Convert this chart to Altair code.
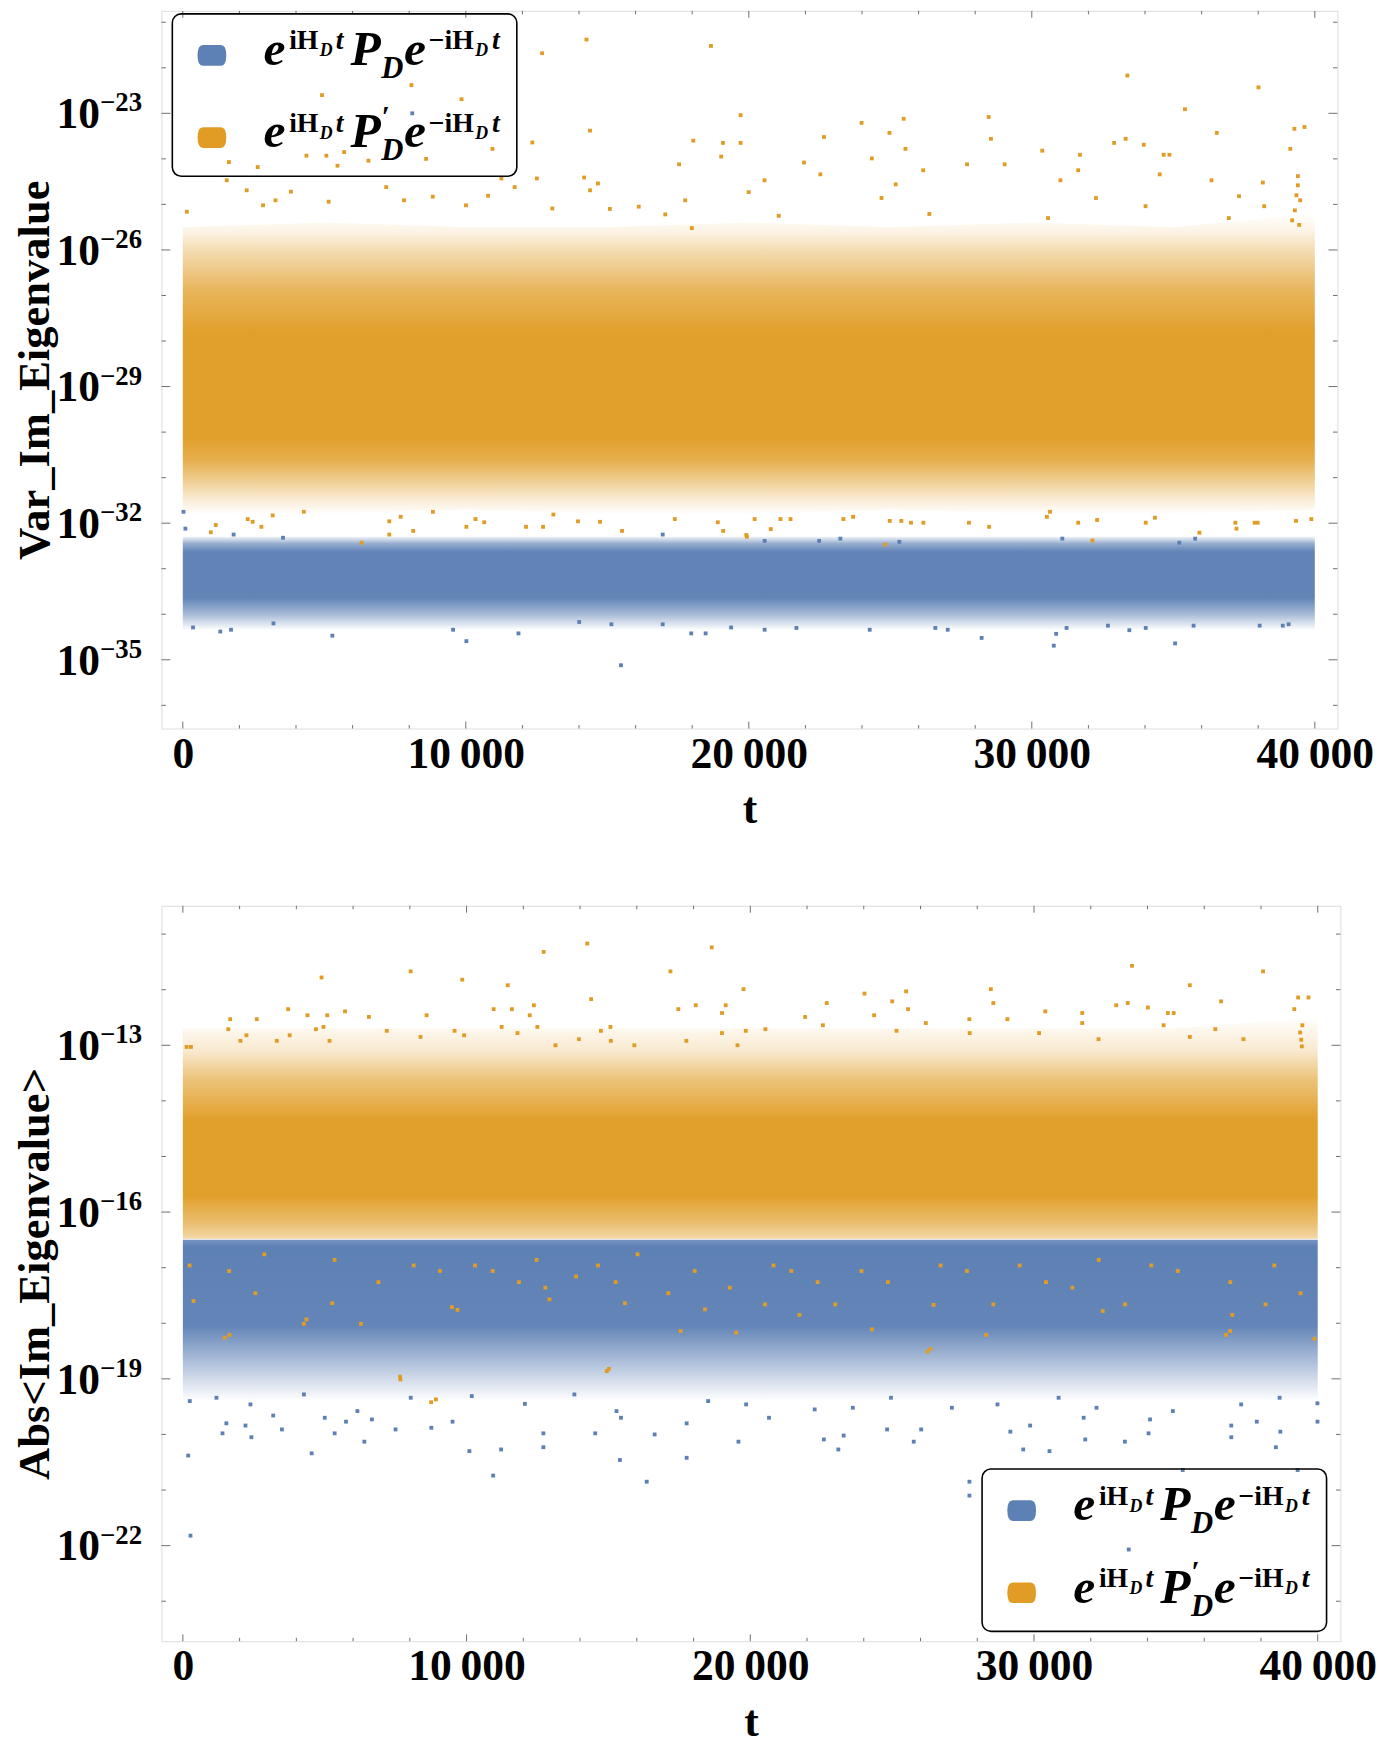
import altair as alt
import pandas as pd

# ---------------- colours / fonts ----------------
BLUE = "#5E81B5"
ORANGE = "#E09C24"
BLUE_RGB = (94, 129, 181)
ORANGE_RGB = (224, 156, 36)
FRAME = "#6e6e6e"
FONT = "Liberation Serif"

# ---------------- axes ----------------
T_DOMAIN = [-755, 40800]
x_major_ticks = [0, 10000, 20000, 30000, 40000]
x_tick_labels = ["0", "10\u2009000", "20\u2009000", "30\u2009000", "40\u2009000"]
x_minor_ticks = [2000, 4000, 6000, 8000, 12000, 14000, 16000, 18000, 22000, 24000,
                 26000, 28000, 32000, 34000, 36000, 38000]

top_log_domain = [-36.51, -20.75]
top_major_exp = [-35, -32, -29, -26, -23]
top_minor_exp = [-36, -34, -33, -31, -30, -28, -27, -25, -24, -22, -21]

bot_log_domain = [-23.72, -10.49]
bot_major_exp = [-22, -19, -16, -13]
bot_minor_exp = [-23, -21, -20, -18, -17, -15, -14, -12, -11]

# ---------------- dense bands (log10 values read at t knots) ----------------
t_knots = [0, 5000, 10000, 15000, 20000, 25000, 30000, 35000, 40000]

# top panel, orange  (Var, P'_D)
var_org_hi = [-25.5, -25.4, -25.5, -25.5, -25.4, -25.5, -25.4, -25.5, -25.2]
var_org_lo = [-31.8, -31.8, -31.7, -31.8, -31.8, -31.7, -31.8, -31.8, -31.7]
var_org_prof_log = [-25.2, -25.6, -26.0, -26.9, -27.8, -30.1, -30.6, -31.0, -31.45, -31.8]
var_org_prof_alpha = [0.0, 0.12, 0.35, 0.75, 0.96, 0.97, 0.82, 0.55, 0.22, 0.0]
# top panel, blue (Var, P_D)
var_blu_hi = [-32.3, -32.3, -32.3, -32.3, -32.3, -32.3, -32.3, -32.3, -32.3]
var_blu_lo = [-34.35, -34.35, -34.35, -34.35, -34.35, -34.35, -34.35, -34.35, -34.35]
var_blu_prof_log = [-32.3, -32.45, -32.63, -33.63, -34.0, -34.35]
var_blu_prof_alpha = [0.10, 0.65, 0.98, 0.98, 0.55, 0.0]
# bottom panel, orange
abs_org_hi = [-12.7, -12.7, -12.7, -12.7, -12.7, -12.7, -12.7, -12.7, -12.5]
abs_org_lo = [-16.48, -16.48, -16.48, -16.48, -16.48, -16.48, -16.48, -16.48, -16.48]
abs_org_prof_log = [-12.5, -13.1, -13.6, -14.35, -15.7, -16.2, -16.48]
abs_org_prof_alpha = [0.0, 0.22, 0.6, 0.97, 0.97, 0.65, 0.4]
# bottom panel, blue
abs_blu_hi = [-16.5, -16.5, -16.5, -16.5, -16.5, -16.5, -16.5, -16.5, -16.5]
abs_blu_lo = [-19.4, -19.4, -19.4, -19.4, -19.4, -19.4, -19.4, -19.4, -19.4]
abs_blu_prof_log = [-16.5, -16.62, -18.05, -18.7, -19.4]
abs_blu_prof_alpha = [0.85, 1.0, 0.97, 0.50, 0.0]

# ---------------- isolated points (t, log10 value) ----------------
var_org_out_t = [14263, 12696, 8078, 4919, 9848, 14389, 12352, 1630, 2647, 4369, 5073, 5701, 6560, 5466,
                 8597, 10942, 11258, 12510, 14669, 14182, 1553, 2258, 3822, 3275, 2836, 10788, 11727,
                 14389, 144, 7187, 8832, 10006, 5154, 7815, 13057, 15091, 16110, 17047, 17986,
                 18663, 33377, 38009, 35411, 19711, 28476, 25471, 23985, 39635, 39278, 24970, 36536,
                 22656, 28557, 18038, 19087, 19711, 32908, 33315, 33956, 25535, 30369, 39134, 19024,
                 31701, 34660, 34863, 24346, 21951, 17537, 27711, 29040, 22530, 26162, 31639, 34520,
                 20555, 25191, 31011, 36350, 38163, 39401, 19995, 17754, 24690, 37321, 32266, 34019,
                 38212, 21057, 26379, 30573, 36960, 39401, 39350, 39484, 39296, 39200, 39450,
                 1164, 992, 2293, 2468, 2777, 7296, 7699, 7296, 8141, 6318, 10020, 10343, 10651,
                 12730, 13964, 14743, 15521, 17386, 18904, 19094, 19911, 13094, 12127, 3177, 4277,
                 8838, 19935, 20777, 20205, 21120, 21474, 27778, 28490, 31639, 32308, 34026, 34352,
                 35923, 37231, 37193, 37873, 37982, 39335, 39878, 32143, 24815, 25731, 26169, 25391,
                 24981, 23344, 23684, 30534, 30643]
var_org_out_e = [-21.38, -21.68, -22.38, -22.60, -22.69, -23.38, -23.64, -24.07, -24.18, -23.93, -23.93,
                 -23.85, -24.04, -24.15, -24.00, -23.78, -24.43, -24.43, -24.54, -24.41, -24.47, -24.69,
                 -24.72, -24.91, -25.02, -24.81, -24.62, -24.69, -25.16, -24.62, -24.83, -25.02, -24.94,
                 -24.91, -25.09, -25.10, -25.05, -25.22, -25.52,
                 -21.52, -22.17, -22.43, -22.91, -23.04, -23.08, -23.12, -23.21, -23.30, -23.34, -23.43,
                 -23.43, -23.52, -23.56, -23.60, -23.65, -23.65, -23.65, -23.56, -23.69, -23.78, -23.82,
                 -23.78, -23.95, -23.91, -23.91, -23.91, -23.99, -24.08, -24.12, -24.12, -24.12, -24.34,
                 -24.25, -24.25, -24.34, -24.47, -24.56, -24.47, -24.47, -24.52, -24.38, -24.73, -24.91,
                 -24.86, -24.82, -24.86, -25.04, -25.04, -25.25, -25.21, -25.30, -25.30, -24.58, -24.80,
                 -24.91, -25.13, -25.35, -25.45,
                 -32.04, -32.20, -31.91, -31.97, -32.08, -31.96, -31.86, -32.25, -32.17, -32.43, -32.08,
                 -31.91, -31.98, -32.08, -31.96, -31.97, -32.17, -31.91, -31.98, -32.17, -32.26, -31.81,
                 -32.08, -31.83, -31.75, -31.75, -32.30, -32.13, -31.91, -31.91, -31.91, -31.99, -32.08,
                 -31.99, -31.93, -31.99, -31.88, -32.21, -32.12, -31.99, -31.99, -31.99, -31.95, -31.91,
                 -32.38, -32.47, -31.99, -31.99, -31.95, -31.95, -31.91, -31.86, -31.86, -31.75]

var_blu_out_t = [25, 91, 3541, 1795, 16958, 23234, 20560, 31077, 35772, 25320, 22484, 35211, 8107,
                 361, 1325, 1704, 5284, 9550, 10020, 11861, 14006, 17965, 18474, 19374, 15146, 16958,
                 3204, 15483, 28227, 30776, 35064, 33446, 39074, 30860, 20560, 21682, 24273, 26591,
                 27029, 31228, 34026, 35716, 38051, 38868, 32690]
var_blu_out_e = [-31.75, -32.12, -32.32, -32.25, -32.25, -32.34, -32.39, -32.34, -32.34, -32.41, -32.39,
                 -32.43, -23.00,
                 -34.29, -34.38, -34.34, -34.47, -34.34, -34.59, -34.42, -34.17, -34.42, -34.42, -34.29,
                 -34.22, -34.22, -34.20, -35.12, -34.52, -34.69, -34.64, -34.35, -34.22, -34.43, -34.34,
                 -34.30, -34.34, -34.30, -34.34, -34.30, -34.30, -34.25, -34.25, -34.25, -34.25]

abs_org_out_t = [14254, 12718, 18641, 8028, 4889, 9848, 11450, 17184, 14390, 19761, 12372, 3712, 10955,
                 11597, 17464, 18078, 19133, 4393, 5088, 5716, 8590, 12226, 19003, 1669, 2605, 6558,
                 1603, 4690, 4955, 7187, 11237, 12494, 15071, 14736, 9578, 19842, 2242, 3764, 9914,
                 11796, 19003, 2029, 3310, 5168, 8377, 13961, 15085, 17746, 133, 286, 13133, 15913,
                 19548,
                 33453, 38073, 35493, 25492, 24025, 28480, 39309, 39675, 22695, 25003, 28565, 32898,
                 33303, 36593, 34013, 39174, 25562, 30398, 31700, 34718, 34924, 21933, 24364, 27720,
                 29064, 31700, 26186, 22558, 34567, 36390, 20533, 39459, 27733, 30178, 25154, 32273,
                 35493, 37382, 39380, 39420, 39440,
                 237, 1474, 4264, 6275, 7668, 8751, 14943, 26243, 36767, 6893, 9062, 10919, 12774,
                 14632, 17111, 19276, 21444, 22991, 24849, 27636, 29493, 31351, 33209, 35067, 38471,
                 39397, 2870, 5346, 9680, 12467, 16025, 20516, 28565, 32281, 377, 5266, 9484, 12921,
                 15581, 18403, 21734, 26459, 32423, 36987, 4355, 1641, 17544, 19503, 24284, 28313,
                 36911, 39886, 26354, 15016, 7655, 8919, 1631, 2557, 8133, 10298, 11845, 13860, 15253,
                 18040, 20820, 22373, 23920, 26707, 30422, 34134, 36917, 38161]
abs_org_out_e = [-11.17, -11.32, -11.24, -11.67, -11.78, -11.82, -11.92, -11.67, -12.17, -11.99, -12.28,
                 -12.35, -12.35, -12.35, -12.35, -12.28, -12.28, -12.46, -12.46, -12.39, -12.46, -12.46,
                 -12.42, -12.53, -12.53, -12.49, -12.71, -12.71, -12.67, -12.74, -12.67, -12.67, -12.67,
                 -12.74, -12.74, -12.74, -12.82, -12.82, -12.82, -12.78, -12.78, -12.92, -12.92, -12.92,
                 -12.85, -12.89, -12.92, -12.92, -13.03, -13.03, -13.00, -13.00, -13.00,
                 -11.57, -11.67, -11.92, -12.03, -12.07, -11.99, -12.14, -12.14, -12.24, -12.21, -12.24,
                 -12.28, -12.24, -12.21, -12.32, -12.35, -12.35, -12.39, -12.42, -12.42, -12.42, -12.49,
                 -12.46, -12.53, -12.53, -12.60, -12.60, -12.64, -12.64, -12.71, -12.71, -12.64, -12.78,
                 -12.78, -12.74, -12.89, -12.85, -12.89, -12.77, -12.90, -13.02,
                 -16.96, -18.26, -18.01, -18.01, -19.01, -19.42, -18.86, -18.51, -18.21, -17.26, -17.06,
                 -17.06, -17.36, -16.96, -17.46, -17.36, -17.06, -17.66, -17.26, -17.06, -16.96, -17.36,
                 -17.66, -17.06, -16.96, -17.46, -16.76, -16.86, -17.76, -16.86, -16.76, -17.66, -17.66,
                 -16.86, -17.60, -17.64, -17.71, -17.57, -17.64, -17.75, -17.85, -17.67, -17.78, -17.85,
                 -17.93, -18.21, -18.14, -18.17, -18.11, -18.21, -18.14, -18.28, -18.46, -18.82, -18.96,
                 -19.37, -17.06, -17.46, -16.96, -16.96, -17.26, -17.16, -17.26, -17.06, -16.96, -17.26,
                 -17.06, -16.96, -17.26, -16.96, -17.26, -17.66]

abs_blu_out_t = [189, 269, 4540, 10937, 16350, 27723, 27723, 33339, 35242, 39292, 15404, 17757, 10099,
                 11216, 12707, 23103, 29620, 30545, 38525, 6397, 19583, 25761, 33203, 31806, 36953,
                 22593, 2416, 5350, 1397, 3492, 7497, 8758, 12707, 14534, 16629, 23292, 29166, 34037,
                 38682, 39991, 36953, 37851, 34089, 31750, 29864, 26023, 24822, 20659, 17757, 15442,
                 9505, 6663, 5751, 2207, 1533, 5001, 3185, 39990, 244, 1184, 2382, 4267, 6153, 8032,
                 10183, 12055, 13800, 15285, 18515, 19852, 22269, 23614, 24958, 27105, 28712, 30867,
                 32204, 34893, 37302, 38657]
abs_blu_out_e = [-20.38, -21.82, -20.34, -20.74, -20.85, -20.85, -21.10, -22.07, -20.64, -20.64, -20.46,
                 -20.42, -20.30, -20.27, -20.23, -20.27, -20.27, -20.30, -20.23, -20.13, -20.13, -20.13,
                 -20.13, -20.09, -20.05, -20.09, -20.05, -19.98, -19.98, -19.91, -19.91, -19.88, -19.98,
                 -19.98, -20.00, -20.02, -19.95, -19.98, -19.95, -19.77, -19.84, -19.77, -19.73, -19.70,
                 -19.84, -19.91, -19.91, -19.70, -19.80, -19.70, -19.77, -19.73, -19.77, -19.84, -19.80,
                 -19.70, -19.66, -19.44, -19.40, -19.34, -19.46, -19.28, -19.58, -19.34, -19.31, -19.45,
                 -19.28, -19.58, -19.40, -19.46, -19.55, -19.52, -19.34, -19.52, -19.46, -19.34, -19.52,
                 -19.58, -19.46, -19.34]

# ---------------- layout constants (pixels) ----------------
W1, H1 = 1188, 725
W2, H2 = 1191, 743
LEG_W, LEG_H, LEG_ROW = 348, 164, 83
SYM = "M-0.62,-0.72 L0.62,-0.72 Q1,-0.72 1,0 Q1,0.72 0.62,0.72 L-0.62,0.72 Q-1,0.72 -1,0 Q-1,-0.72 -0.62,-0.72 Z"
TITLE_FS = 45


def sup(n):
    return "\u2212" + str(abs(n))


x_label_expr = " : ".join(
    [f"datum.value == {v} ? '{s}'" for v, s in zip(x_major_ticks, x_tick_labels)]) + " : ''"

one = pd.DataFrame({"a": [0]})


def grad(rgb, prof_log, prof_alpha, top, bottom):
    stops = []
    for v, a in zip(prof_log, prof_alpha):
        off = (top - v) / (top - bottom)
        off = min(max(off, 0.0), 1.0)
        stops.append(alt.GradientStop(color=f"rgba({rgb[0]},{rgb[1]},{rgb[2]},{a})", offset=off))
    return alt.LinearGradient(gradient="linear", stops=stops, x1=0, x2=0, y1=0, y2=1)


def legend_layers(bx, by):
    layers = [alt.Chart(one).mark_rect(filled=False, stroke="black", strokeWidth=1.6, cornerRadius=9).encode(
        x=alt.value(bx), x2=alt.value(bx + LEG_W), y=alt.value(by), y2=alt.value(by + LEG_H))]
    for k, (color, prime) in enumerate([(BLUE, False), (ORANGE, True)]):
        oy = by + k * LEG_ROW
        layers.append(alt.Chart(one).mark_point(shape=SYM, filled=True, size=841, color=color, opacity=1).encode(
            x=alt.value(bx + 40), y=alt.value(oy + 42)))
        pieces = [("e", 92, 52, 50, True), ("iH", 118, 36, 28, False), ("D", 149, 43, 18, True),
                  ("t", 165, 36, 28, True), ("P", 180, 52, 50, True), ("D", 211, 65, 31, True),
                  ("e", 234, 52, 50, True), ("\u2212iH", 259, 36, 28, False), ("D", 306, 43, 18, True),
                  ("t", 323, 36, 28, True)]
        if prime:
            pieces.append(("\u2032", 211, 30, 30, True))
        for txt, dx, base, fs, it in pieces:
            kw = dict(text=txt, font=FONT, fontSize=fs, fontWeight="bold", align="left",
                      baseline="alphabetic", color="black")
            if it:
                kw["fontStyle"] = "italic"
            layers.append(alt.Chart(one).mark_text(**kw).encode(x=alt.value(bx + dx), y=alt.value(oy + base)))
    return layers


def panel(W, H, log_dom, major_exp, minor_exp, title, bands, points, leg_xy):
    xs = alt.Scale(domain=T_DOMAIN, nice=False, zero=False)
    ys = alt.Scale(type="log", domain=[10 ** log_dom[0], 10 ** log_dom[1]], nice=False)
    xax = alt.Axis(values=x_major_ticks, labelExpr=x_label_expr, labelFont=FONT, labelFontSize=44,
                   labelFontWeight="bold", labelColor="black", labelPadding=4, ticks=False, domain=False,
                   grid=False, labelFlush=False, labelOverlap=False, title="t", titleFont=FONT,
                   titleFontSize=44, titleFontWeight="bold", titleColor="black", titlePadding=12)
    yax = alt.Axis(labels=False, ticks=False, domain=False, grid=False, title=title, titleFont=FONT,
                   titleFontSize=TITLE_FS, titleFontWeight="bold", titleColor="black", titlePadding=105,
                   minExtent=0, maxExtent=0)

    def X(f):
        return alt.X(f, type="quantitative", scale=xs, axis=xax)

    def Y(f):
        return alt.Y(f, type="quantitative", scale=ys, axis=yax)

    layers = []
    for (hi, lo, plog, palpha, rgb), (pt, pe, col) in zip(bands, points):
        df = pd.DataFrame({"t": t_knots, "hi": [10 ** v for v in hi], "lo": [10 ** v for v in lo]})
        g = grad(rgb, plog, palpha, max(hi), min(lo))
        layers.append(alt.Chart(df).mark_area(color=g, opacity=1).encode(x=X("t"), y=Y("hi"), y2="lo"))
        dp = pd.DataFrame({"t": pt, "v": [10 ** v for v in pe]})
        layers.append(alt.Chart(dp).mark_square(size=15, color=col, opacity=1).encode(x=X("t"), y=Y("v")))

    # frame ticks
    ymaj = pd.DataFrame({"v": [10.0 ** e for e in major_exp]})
    ymin = pd.DataFrame({"v": [10.0 ** e for e in minor_exp]})
    xmaj = pd.DataFrame({"t": x_major_ticks})
    xmin = pd.DataFrame({"t": x_minor_ticks})
    for d, L in [(ymaj, 9), (ymin, 4.5)]:
        layers.append(alt.Chart(d).mark_rule(color=FRAME, strokeWidth=1).encode(
            y=Y("v"), x=alt.value(0), x2=alt.value(L)))
        layers.append(alt.Chart(d).mark_rule(color=FRAME, strokeWidth=1).encode(
            y=Y("v"), x=alt.value(W - L), x2=alt.value(W)))
    for d, L in [(xmaj, 7), (xmin, 3.5)]:
        layers.append(alt.Chart(d).mark_rule(color=FRAME, strokeWidth=1).encode(
            x=X("t"), y=alt.value(H - L), y2=alt.value(H)))
        layers.append(alt.Chart(d).mark_rule(color=FRAME, strokeWidth=1).encode(
            x=X("t"), y=alt.value(0), y2=alt.value(L)))

    # y tick labels 10^n
    lab = pd.DataFrame({"v": [10.0 ** e for e in major_exp], "base": ["10"] * len(major_exp),
                        "ex": [sup(e) for e in major_exp]})
    layers.append(alt.Chart(lab).mark_text(font=FONT, fontSize=44, fontWeight="bold", align="right",
                                           baseline="middle", dy=2, color="black").encode(
        y=Y("v"), x=alt.value(-62), text="base:N"))
    layers.append(alt.Chart(lab).mark_text(font=FONT, fontSize=27, fontWeight="bold", align="left",
                                           baseline="alphabetic", dy=-2, color="black").encode(
        y=Y("v"), x=alt.value(-62), text="ex:N"))

    layers += legend_layers(*leg_xy)
    return alt.layer(*layers).properties(width=W, height=H)


top = panel(
    W1, H1, top_log_domain, top_major_exp, top_minor_exp, "Var_Im_Eigenvalue",
    [(var_blu_hi, var_blu_lo, var_blu_prof_log, var_blu_prof_alpha, BLUE_RGB),
     (var_org_hi, var_org_lo, var_org_prof_log, var_org_prof_alpha, ORANGE_RGB)],
    [(var_blu_out_t, var_blu_out_e, BLUE), (var_org_out_t, var_org_out_e, ORANGE)],
    (11, 3))

bottom = panel(
    W2, H2, bot_log_domain, bot_major_exp, bot_minor_exp, "Abs<Im_Eigenvalue>",
    [(abs_blu_hi, abs_blu_lo, abs_blu_prof_log, abs_blu_prof_alpha, BLUE_RGB),
     (abs_org_hi, abs_org_lo, abs_org_prof_log, abs_org_prof_alpha, ORANGE_RGB)],
    [(abs_blu_out_t, abs_blu_out_e, BLUE), (abs_org_out_t, abs_org_out_e, ORANGE)],
    (W2 - 14 - LEG_W, H2 - 10 - LEG_H))

chart = alt.vconcat(top, bottom, spacing=73).properties(
    padding={"left": 4, "top": -7, "right": 5, "bottom": 0}
).configure_view(stroke=FRAME, strokeWidth=1.2).configure(background="white")

chart.save("out.html", embed_options={"renderer": "svg", "actions": False})
